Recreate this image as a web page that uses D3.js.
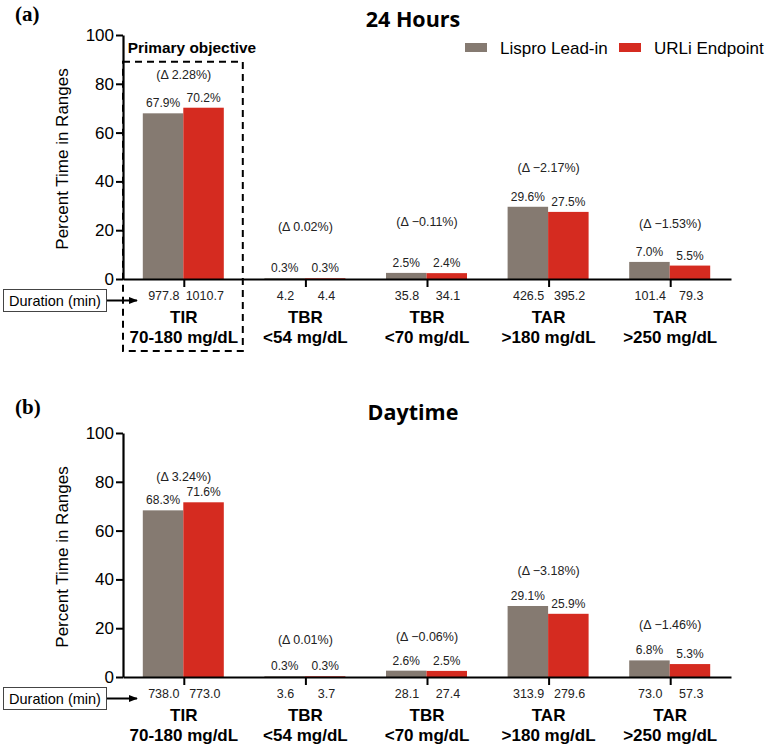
<!DOCTYPE html>
<head>
  <meta charset='utf-8'>
  <script src='https://d3js.org/d3.v7.min.js'></script>
  <style>
    body { margin: 0; background: #fff; }
    text { font-family: 'Liberation Sans', Arial, sans-serif; }
  </style>
</head>
<body>
<script>
const categories = ['TIR', 'TBR', 'TBR', 'TAR', 'TAR'];
const ranges = ['70-180 mg/dL', '<54 mg/dL', '<70 mg/dL', '>180 mg/dL', '>250 mg/dL'];
const series = ['Lispro Lead-in', 'URLi Endpoint'];

// panel (a) 24 hours
const lispro24 = [67.9, 0.3, 2.5, 29.6, 7.0];
const urli24 = [70.2, 0.3, 2.4, 27.5, 5.5];
const durLispro24 = ['977.8', '4.2', '35.8', '426.5', '101.4'];
const durUrli24 = ['1010.7', '4.4', '34.1', '395.2', '79.3'];
const delta24 = ['2.28', '0.02', '\u22120.11', '\u22122.17', '\u22121.53'];
const deltaLevel24 = [83.6, 21.3, 23.4, 45.5, 22.5];

// panel (b) daytime
const lisproDay = [68.3, 0.3, 2.6, 29.1, 6.8];
const urliDay = [71.6, 0.3, 2.5, 25.9, 5.3];
const durLisproDay = ['738.0', '3.6', '28.1', '313.9', '73.0'];
const durUrliDay = ['773.0', '3.7', '27.4', '279.6', '57.3'];
const deltaDay = ['3.24', '0.01', '\u22120.06', '\u22123.18', '\u22121.46'];
const deltaLevelDay = [82.0, 15.2, 16.4, 43.4, 21.3];

const yTicks = [0, 20, 40, 60, 80, 100];
const colors = ['#857a71', '#d52b20'];

const width = 767, height = 746;
const svg = d3.select('body').append('svg').attr('width', width).attr('height', height);

const defs = svg.append('defs');
defs.append('marker').attr('id', 'arrow')
  .attr('viewBox', '0 0 10 10').attr('refX', 9).attr('refY', 5)
  .attr('markerWidth', 9).attr('markerHeight', 9).attr('markerUnits', 'userSpaceOnUse')
  .attr('orient', 'auto')
  .append('path').attr('d', 'M0,1 L10,5 L0,9 Z').attr('fill', '#000');

const x = d3.scalePoint()
  .domain(d3.range(categories.length))
  .range([123, 731])
  .padding(0.5);

const xs = d3.scaleBand().domain(series).range([-41, 40]);

function panel(opt) {
  const y = d3.scaleLinear().domain([0, 100]).range([opt.y0, opt.y100]);
  const g = svg.append('g');

  g.append('text').attr('x', 15).attr('y', opt.letterY)
    .style('font-family', "'Liberation Serif', 'Times New Roman', serif")
    .attr('font-weight', 'bold').attr('font-size', 21).text(opt.letter);

  g.append('text').attr('x', 413).attr('y', opt.titleY).attr('text-anchor', 'middle')
    .style('font-family', "'Open Sans', sans-serif")
    .attr('font-weight', 'bold').attr('font-size', 21.5).text(opt.title);

  // bars
  const rows = categories.map((c, i) => [
    {i: i, key: series[0], value: opt.a[i]},
    {i: i, key: series[1], value: opt.b[i]}
  ]);
  const grp = g.append('g').selectAll('g').data(rows).enter().append('g')
    .attr('transform', (d, i) => `translate(${x(i)},0)`);
  grp.selectAll('rect').data(d => d).enter().append('rect')
    .attr('x', d => xs(d.key))
    .attr('y', d => y(d.value))
    .attr('width', xs.bandwidth())
    .attr('height', d => y(0) - y(d.value))
    .attr('fill', (d, j) => colors[j]);
  grp.selectAll('text.v').data(d => d).enter().append('text')
    .attr('class', 'v')
    .attr('x', d => xs(d.key) + xs.bandwidth() / 2)
    .attr('y', d => y(d.value) - 6)
    .attr('text-anchor', 'middle').attr('font-size', 12).attr('fill', '#222')
    .text(d => d.value.toFixed(1) + '%');

  // deltas
  g.append('g').selectAll('text').data(opt.delta).enter().append('text')
    .attr('x', (d, i) => x(i))
    .attr('y', (d, i) => y(opt.deltaLevel[i]) + 4)
    .attr('text-anchor', 'middle').attr('font-size', 12.5).attr('fill', '#222')
    .text(d => '(\u0394 ' + d + '%)');

  // y axis
  const ya = g.append('g').attr('transform', 'translate(123,0)')
    .call(d3.axisLeft(y).tickValues(yTicks).tickSize(7).tickPadding(2).tickSizeOuter(0));
  ya.select('.domain').attr('stroke-width', 2.2);
  ya.selectAll('.tick line').attr('stroke-width', 2);
  ya.selectAll('.tick text').attr('font-size', 17).attr('fill', '#000')
    .style('font-family', "'Liberation Sans', Arial, sans-serif");

  g.append('text')
    .attr('transform', `translate(68,${(y(0) + y(100)) / 2 + 2}) rotate(-90)`)
    .attr('text-anchor', 'middle').attr('font-size', 17).text('Percent Time in Ranges');

  // x axis
  const xa = g.append('g').attr('transform', `translate(0,${y(0)})`)
    .call(d3.axisBottom(x).tickSize(8).tickSizeOuter(0).tickFormat(''));
  xa.select('.domain').attr('stroke-width', 2.2);
  xa.selectAll('.tick line').attr('stroke-width', 2);

  // durations
  g.append('g').selectAll('text').data(opt.durA).enter().append('text')
    .attr('x', (d, i) => x(i) - 20).attr('y', y(0) + 21)
    .attr('text-anchor', 'middle').attr('font-size', 12.5).attr('fill', '#222').text(d => d);
  g.append('g').selectAll('text').data(opt.durB).enter().append('text')
    .attr('x', (d, i) => x(i) + 21).attr('y', y(0) + 21)
    .attr('text-anchor', 'middle').attr('font-size', 12.5).attr('fill', '#222').text(d => d);

  // category labels
  g.append('g').selectAll('text').data(categories).enter().append('text')
    .attr('x', (d, i) => x(i)).attr('y', y(0) + 44)
    .attr('text-anchor', 'middle').attr('font-weight', 'bold').attr('font-size', 17).text(d => d);
  g.append('g').selectAll('text').data(ranges).enter().append('text')
    .attr('x', (d, i) => x(i)).attr('y', y(0) + 64)
    .attr('text-anchor', 'middle').attr('font-weight', 'bold').attr('font-size', 17).text(d => d);

  // duration box + arrow
  g.append('rect').attr('x', 3.5).attr('y', y(0) + 10.5).attr('width', 103).attr('height', 22)
    .attr('fill', '#fff').attr('stroke', '#444').attr('stroke-width', 1);
  g.append('text').attr('x', 55).attr('y', y(0) + 26.5).attr('text-anchor', 'middle')
    .attr('font-size', 14.5).text('Duration (min)');
  g.append('line').attr('x1', 107).attr('x2', 137).attr('y1', y(0) + 21.5).attr('y2', y(0) + 21.5)
    .attr('stroke', '#000').attr('stroke-width', 2).attr('marker-end', 'url(#arrow)');

  return y;
}

const ya = panel({
  letter: '(a)', letterY: 21, title: '24 Hours', titleY: 27,
  y0: 279, y100: 35,
  a: lispro24, b: urli24, durA: durLispro24, durB: durUrli24,
  delta: delta24, deltaLevel: deltaLevel24
});

panel({
  letter: '(b)', letterY: 414, title: 'Daytime', titleY: 420,
  y0: 677, y100: 433,
  a: lisproDay, b: urliDay, durA: durLisproDay, durB: durUrliDay,
  delta: deltaDay, deltaLevel: deltaLevelDay
});

// primary objective dashed box (panel a, first category)
svg.append('rect')
  .attr('x', 123).attr('y', ya(89))
  .attr('width', x(0) + 59 - 123).attr('height', 351 - ya(89))
  .attr('fill', 'none').attr('stroke', '#000').attr('stroke-width', 2)
  .attr('stroke-dasharray', '7,5');
svg.append('text').attr('x', 192).attr('y', 53).attr('text-anchor', 'middle')
  .attr('font-weight', 'bold').attr('font-size', 15.4).text('Primary objective');

// legend
const legend = svg.append('g').selectAll('g').data(series).enter().append('g')
  .attr('transform', (d, i) => `translate(${[465, 619][i]},43)`);
legend.append('rect').attr('width', 22).attr('height', 9).attr('fill', (d, i) => colors[i]);
legend.append('text').attr('x', 35).attr('y', 11).attr('font-size', 17).text(d => d);
</script>
</body>
